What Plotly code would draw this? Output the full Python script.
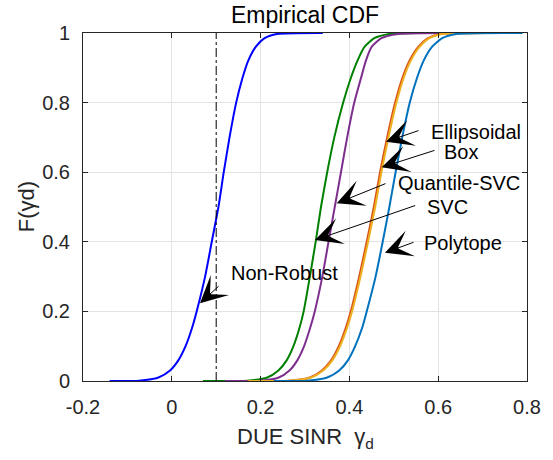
import plotly.graph_objects as go

# ---------------- data ----------------
cdf_levels = [0.0, 0.001, 0.01, 0.03, 0.06, 0.1, 0.15, 0.2, 0.3, 0.4, 0.5, 0.6, 0.7, 0.8, 0.87, 0.92, 0.96, 0.985, 0.997, 1.0]

nonrobust_x = [-0.14, -0.074, -0.03, -0.004, 0.015, 0.031, 0.045, 0.056, 0.075, 0.09, 0.105, 0.117, 0.13, 0.145, 0.159, 0.172, 0.189, 0.209, 0.237, 0.34]
svc_x = [0.07, 0.17, 0.215, 0.24, 0.259, 0.274, 0.287, 0.297, 0.311, 0.324, 0.336, 0.35, 0.366, 0.386, 0.403, 0.418, 0.434, 0.456, 0.49, 0.55]
qsvc_x = [0.12, 0.2, 0.241, 0.265, 0.283, 0.298, 0.311, 0.322, 0.339, 0.353, 0.367, 0.381, 0.395, 0.411, 0.426, 0.437, 0.45, 0.472, 0.51, 0.63]
box_x = [0.17, 0.263, 0.311, 0.338, 0.359, 0.376, 0.391, 0.403, 0.422, 0.439, 0.455, 0.469, 0.485, 0.503, 0.519, 0.535, 0.555, 0.577, 0.605, 0.74]
ellip_x = [0.173, 0.266, 0.314, 0.341, 0.362, 0.379, 0.394, 0.406, 0.425, 0.442, 0.458, 0.472, 0.488, 0.506, 0.522, 0.538, 0.558, 0.58, 0.608, 0.74]
poly_x = [0.23, 0.305, 0.35, 0.377, 0.397, 0.413, 0.428, 0.439, 0.459, 0.475, 0.49, 0.504, 0.519, 0.536, 0.552, 0.567, 0.586, 0.609, 0.641, 0.79]

threshold_x = [0.1, 0.1]
threshold_y = [0.0, 1.0]

x_ticks = [-0.2, 0, 0.2, 0.4, 0.6, 0.8]
x_ticklabels = ["-0.2", "0", "0.2", "0.4", "0.6", "0.8"]
y_ticks = [0, 0.2, 0.4, 0.6, 0.8, 1]
y_ticklabels = ["0", "0.2", "0.4", "0.6", "0.8", "1"]

# annotation labels: text, text position, arrow tail, arrow tip (data coords)
labels = ["Ellipsoidal", "Box", "Quantile-SVC", "SVC", "Polytope", "Non-Robust"]
label_x = [0.684, 0.651, 0.647, 0.62, 0.656, 0.2538]
label_y = [0.716, 0.658, 0.569, 0.5, 0.3966, 0.311]
tail_x = [0.559, 0.595, 0.4847, 0.5516, 0.5477, 0.1086]
tail_y = [0.721, 0.664, 0.569, 0.5057, 0.4, 0.276]
tip_x = [0.4824, 0.4727, 0.3714, 0.3225, 0.48, 0.0635]
tip_y = [0.6877, 0.614, 0.5106, 0.405, 0.3687, 0.2233]

FONT = "Liberation Sans, Arial, sans-serif"
AX = "#262626"

fig = go.Figure()

series = [
    (nonrobust_x, "#0000FF", "Non-Robust"),
    (svc_x, "#008000", "SVC"),
    (qsvc_x, "#7E2F8E", "Quantile-SVC"),
    (box_x, "#D95319", "Box"),
    (ellip_x, "#EDB120", "Ellipsoidal"),
    (poly_x, "#0072BD", "Polytope"),
]
for xs, col, name in series:
    fig.add_trace(go.Scatter(x=xs, y=cdf_levels, mode="lines", name=name,
                             line=dict(color=col, width=2, shape="spline", smoothing=0.6)))

fig.add_trace(go.Scatter(x=threshold_x, y=threshold_y, mode="lines", name="threshold",
                         line=dict(color="black", width=1, dash="dashdot")))

for t, lx, ly, ax_, ay_, px, py in zip(labels, label_x, label_y, tail_x, tail_y, tip_x, tip_y):
    fig.add_annotation(x=px, y=py, ax=ax_, ay=ay_, xref="x", yref="y", axref="x", ayref="y",
                       text="", showarrow=True, arrowhead=3, arrowsize=4.5, arrowwidth=1,
                       arrowcolor="black", standoff=0, startstandoff=0)
    fig.add_annotation(x=lx, y=ly, xref="x", yref="y", text=t, showarrow=False,
                       font=dict(family=FONT, size=20, color="black"),
                       xanchor="center", yanchor="middle")

# axis titles
fig.add_annotation(x=0.5, y=-0.165, xref="paper", yref="paper", showarrow=False,
                   text="DUE SINR  γ<sub>d</sub>", font=dict(family=FONT, size=22, color=AX),
                   xanchor="center", yanchor="middle")
fig.add_annotation(x=-0.128, y=0.5, xref="paper", yref="paper", showarrow=False, textangle=-90,
                   text="F(γd)", font=dict(family=FONT, size=22, color=AX),
                   xanchor="center", yanchor="middle")

fig.update_layout(
    width=553, height=460,
    margin=dict(l=83, r=26, t=33, b=79),
    paper_bgcolor="white", plot_bgcolor="white",
    showlegend=False,
    title=dict(text="Empirical CDF", x=0.5, xref="paper", xanchor="center",
               y=1 - 15 / 460, yref="container", yanchor="middle",
               font=dict(family=FONT, size=23, color="black")),
    font=dict(family=FONT, size=20, color=AX),
)
fig.update_xaxes(range=[-0.2, 0.8], tickvals=x_ticks, ticktext=x_ticklabels,
                 showgrid=True, gridcolor="#E3E3E3", gridwidth=1, zeroline=False,
                 showline=True, linecolor=AX, linewidth=1, mirror="ticks",
                 ticks="inside", ticklen=5, tickcolor=AX, tickwidth=1,
                 tickfont=dict(family=FONT, size=20, color=AX), ticklabelstandoff=8)
fig.update_yaxes(range=[0, 1], tickvals=y_ticks, ticktext=y_ticklabels,
                 showgrid=True, gridcolor="#E3E3E3", gridwidth=1, zeroline=False,
                 showline=True, linecolor=AX, linewidth=1, mirror="ticks",
                 ticks="inside", ticklen=5, tickcolor=AX, tickwidth=1,
                 tickfont=dict(family=FONT, size=20, color=AX), ticklabelstandoff=8)

fig.write_html("out.html")
